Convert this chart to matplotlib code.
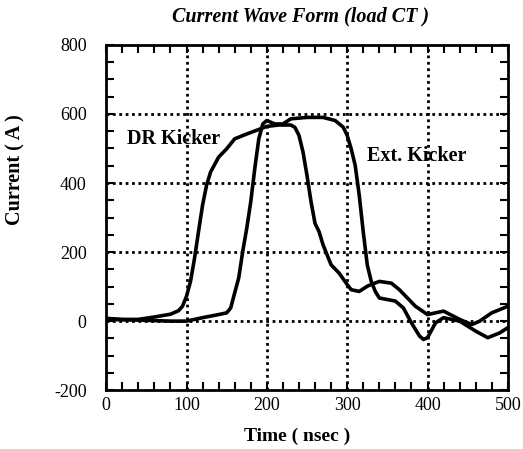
import matplotlib
matplotlib.use("Agg")
import matplotlib.pyplot as plt
from matplotlib.ticker import MultipleLocator

plt.rcParams['font.family'] = ['Liberation Serif', 'DejaVu Serif']
plt.rcParams['axes.unicode_minus'] = False

# DR Kicker (rises first)
dr_t = [0, 20, 40, 60, 80, 90, 95, 100, 105, 110, 115, 120, 125, 130, 140, 150, 160, 175, 190,
        200, 215, 230, 235, 240, 245, 250, 255, 260, 265, 270, 280, 290, 300, 305, 315, 325,
        330, 340, 355, 365, 375, 385, 400, 410, 420, 440, 455, 465, 480, 500]
dr_i = [8, 5, 5, 12, 20, 30, 43, 72, 115, 182, 260, 336, 394, 432, 475, 499, 528, 542, 555,
        564, 568, 568, 561, 538, 490, 422, 346, 283, 259, 221, 163, 139, 106, 91, 86, 101,
        106, 115, 110, 91, 67, 43, 19, 24, 29, 5, -10, 0, 24, 43]

# Ext. Kicker
ext_t = [0, 40, 80, 100, 120, 140, 150, 155, 160, 165, 170, 175, 180, 185, 190, 195, 200,
         210, 220, 230, 250, 270, 285, 295, 300, 305, 310, 315, 320, 325, 330, 335, 340,
         360, 370, 380, 390, 395, 400, 410, 420, 440, 460, 475, 490, 500]
ext_i = [5, 3, 0, 0, 10, 19, 24, 38, 82, 125, 202, 269, 346, 442, 528, 571, 581,
         571, 571, 586, 590, 590, 581, 562, 538, 499, 451, 365, 259, 163, 115, 86, 67,
         58, 38, -5, -43, -53, -48, -5, 10, 0, -29, -48, -34, -19]

fig = plt.figure(figsize=(5.23, 4.49), dpi=100)
ax = fig.add_axes([0.203, 0.131, 0.768, 0.769])

# dotted grid
for gx in [100, 200, 300, 400]:
    ax.axvline(gx, color='black', lw=2, linestyle=(0, (1, 1.3)), zorder=1)
for gy in [0, 200, 400, 600]:
    ax.axhline(gy, color='black', lw=2, linestyle=(0, (1, 1.3)), zorder=1)

ax.plot(dr_t, dr_i, color='black', lw=2.6, zorder=3)
ax.plot(ext_t, ext_i, color='black', lw=2.6, zorder=3)

ax.text(84, 528, 'DR Kicker', fontsize=14.5, fontweight='bold', ha='center', va='center')
ax.text(386, 479, 'Ext. Kicker', fontsize=14.5, fontweight='bold', ha='center', va='center')

ax.set_xlim(0, 500)
ax.set_ylim(-200, 800)
ax.xaxis.set_major_locator(MultipleLocator(100))
ax.xaxis.set_minor_locator(MultipleLocator(20))
ax.yaxis.set_major_locator(MultipleLocator(200))
ax.yaxis.set_minor_locator(MultipleLocator(50))
ax.tick_params(which='both', direction='in', top=True, right=True, width=1.5)
ax.tick_params(which='major', length=6, labelsize=13)
ax.tick_params(which='minor', length=5.5)
ax.tick_params(axis='y', which='major', pad=14)
ax.tick_params(axis='x', which='major', pad=5)
for s in ax.spines.values():
    s.set_linewidth(2)

fig.text(301 / 523, 1 - 16 / 449, 'Current Wave Form (load CT )', fontsize=14.5,
         fontweight='bold', fontstyle='italic', ha='center', va='center')
fig.text(297 / 523, 1 - 436 / 449, 'Time ( nsec )', fontsize=14,
         fontweight='bold', ha='center', va='center')
fig.text(15 / 523, 1 - 170 / 449, 'Current ( A )', fontsize=14.5, rotation=90,
         fontweight='bold', ha='center', va='center')

fig.savefig('out.png', dpi=100)
